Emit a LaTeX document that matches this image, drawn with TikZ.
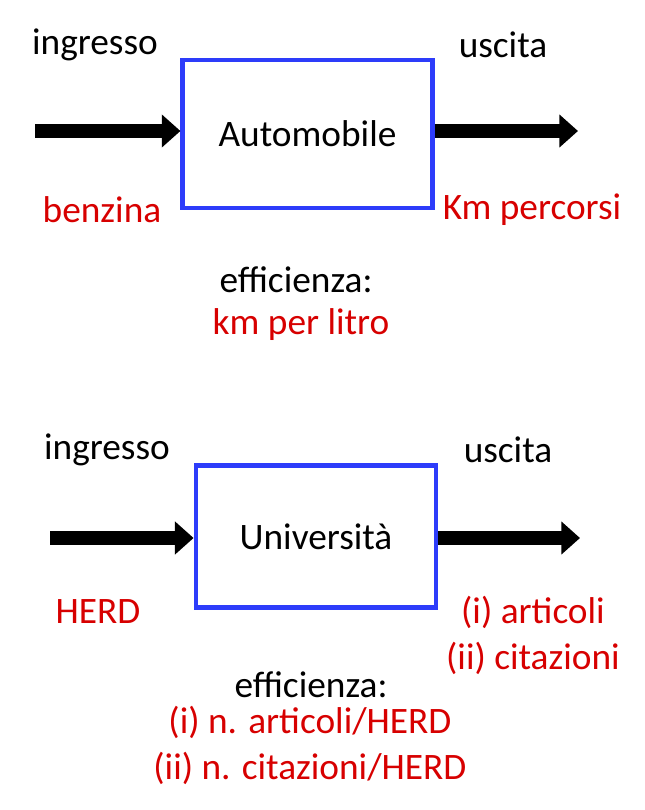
\documentclass[tikz,border=0pt]{standalone}
\usepackage{fontspec}
\setmainfont{Carlito}
\usepackage{xcolor}
\usetikzlibrary{arrows.meta,positioning}

\definecolor{boxblue}{RGB}{45,60,250}
\definecolor{outred}{RGB}{215,0,0}

\begin{document}
\begin{tikzpicture}[
  x=0.75pt, y=-0.75pt,
  every node/.style={font=\fontsize{28}{34.5}\selectfont, inner sep=0pt},
  sysbox/.style={draw=boxblue, line width=3.6pt, fill=white},
  lbl/.style={text=black},
  val/.style={text=outred, align=center},
  fat/.style={line width=10.5pt, -{Triangle[width=24pt, length=14pt]}}
]
\useasboundingbox (0,0) rectangle (645,810);

% automobile
\node[sysbox, minimum width=187pt, minimum height=111pt] (car) at (307.5,134) {Automobile};
\node[lbl] (carin)  at (95,45)  {ingresso};
\node[lbl] (carout) at (503,45) {uscita};
\node[val] (fuel)   at (102,210) {benzina};
\node[val] (km)     at (532,210) {Km percorsi};
\node[lbl] (careff) at (296,280) {efficienza:};
\node[val] (kml)    at (301,325) {km per litro};
\coordinate (carsrc) at (35,131);
\coordinate (cardst) at (578,131);
\draw[fat] (carsrc) -- (carsrc -| car.west);
\draw[fat] (car.east |- cardst) -- (cardst);

% universita
\node[sysbox, minimum width=180pt, minimum height=106pt] (uni) at (316,536.5) {Università};
\node[lbl] (uniin)  at (107,450) {ingresso};
\node[lbl] (uniout) at (508,450) {uscita};
\node[val] (herd)   at (98,612) {HERD};
\node[val] (pubs)   at (533,635) {(i) articoli\\(ii) citazioni};
\node[lbl] (unieff) at (311,685) {efficienza:};
\node[val] (ratio)  at (310,745) {(i) n. articoli/HERD\\(ii) n. citazioni/HERD};
\coordinate (unisrc) at (50,538);
\coordinate (unidst) at (580,538);
\draw[fat] (unisrc) -- (unisrc -| uni.west);
\draw[fat] (uni.east |- unidst) -- (unidst);
\end{tikzpicture}
\end{document}
